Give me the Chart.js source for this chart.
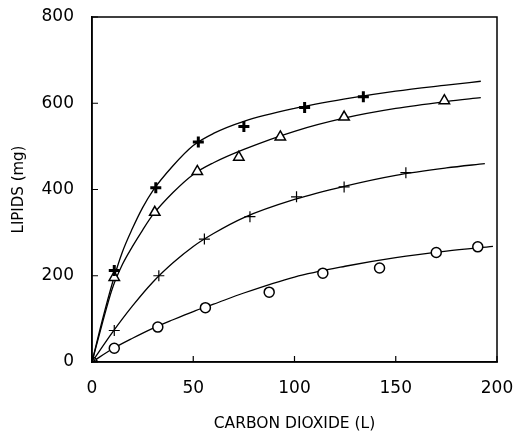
<!DOCTYPE html>
<html>
<head>
<meta charset="utf-8">
<title>Lipids vs Carbon Dioxide</title>
<script src="https://cdn.jsdelivr.net/npm/chart.js@4/dist/chart.umd.min.js"></script>
<style>
  html, body { margin: 0; padding: 0; background: #fff; }
  #lipidsChart { display: block; }
</style>
</head>
<body>
<canvas id="lipidsChart" width="515" height="434"></canvas>
<script>
// measured points, carbon dioxide (L) vs lipids (mg)
const boldPlusX = [0, 11, 31.5, 52.5, 75, 105, 134];
const boldPlusY = [0, 212, 404, 510, 546, 590, 615];

const triangleX = [0, 11, 31, 52, 72.5, 93, 124.5, 174];
const triangleY = [0, 196, 347, 442, 475, 522, 568, 606];

const thinPlusX = [0, 11, 33, 55.5, 78, 101, 124.5, 155];
const thinPlusY = [0, 73, 200, 285, 337, 383, 406, 439];

const circleX = [0, 11, 32.5, 56, 87.5, 114, 142, 170, 190.5];
const circleY = [0, 32, 81, 126, 162, 206, 218, 254, 267];

// fitted curves
const boldCurveX = [0, 5, 10, 15, 20, 25, 30, 40, 50, 60, 75, 100, 125, 150, 175, 192];
const boldCurveY = [0, 95, 182, 255, 310, 358, 397, 455, 502, 530, 558, 588, 610, 628, 642, 651];

const triCurveX = [0, 5, 10, 15, 20, 25, 30, 40, 50, 60, 75, 100, 125, 150, 175, 192];
const triCurveY = [0, 88, 170, 226, 268, 306, 341, 393, 435, 462, 493, 535, 566, 588, 604, 613];

const thinCurveX = [0, 10, 20, 30, 40, 50, 60, 75, 100, 125, 150, 175, 194];
const thinCurveY = [0, 68, 130, 185, 230, 268, 298, 335, 377, 408, 433, 450, 460];

const circleCurveX = [0, 10, 20, 30, 40, 50, 60, 75, 100, 125, 150, 175, 198];
const circleCurveY = [0, 30, 55, 78, 98, 117, 134, 160, 197, 222, 242, 257, 268];

const xTicks = [0, 50, 100, 150, 200];
const yTicks = [0, 200, 400, 600, 800];

const toPoints = (xs, ys) => xs.map((x, i) => ({ x, y: ys[i] }));

const FONT = 'DejaVu Sans';
const TICK_LEN = 6;

// frame round the plot plus short inward tick marks
const framePlugin = {
  id: 'frame',
  afterDraw(chart) {
    const { ctx, chartArea, scales } = chart;
    const { left, right, top, bottom } = chartArea;
    ctx.save();
    ctx.strokeStyle = '#000';
    ctx.lineWidth = 1.5;
    ctx.strokeRect(left, top, right - left, bottom - top);

    ctx.lineWidth = 1.2;
    ctx.beginPath();
    xTicks.forEach((v) => {
      const px = scales.x.getPixelForValue(v);
      ctx.moveTo(px, bottom);
      ctx.lineTo(px, bottom - TICK_LEN);
    });
    yTicks.forEach((v) => {
      const py = scales.y.getPixelForValue(v);
      ctx.moveTo(left, py);
      ctx.lineTo(left + TICK_LEN, py);
    });
    ctx.stroke();
    ctx.restore();
  },
};

const curve = (xs, ys) => ({
  data: toPoints(xs, ys),
  showLine: true,
  borderColor: '#000',
  borderWidth: 1.3,
  pointRadius: 0,
  cubicInterpolationMode: 'monotone',
  order: 2,
});

const markers = (xs, ys, style, radius, width, fill) => ({
  data: toPoints(xs, ys),
  showLine: false,
  pointStyle: style,
  pointRadius: radius,
  pointBorderWidth: width,
  pointBorderColor: '#000',
  pointBackgroundColor: fill,
  order: 1,
});

const ctx = document.getElementById('lipidsChart').getContext('2d');
new Chart(ctx, {
  type: 'scatter',
  data: {
    datasets: [
      curve(boldCurveX, boldCurveY),
      curve(triCurveX, triCurveY),
      curve(thinCurveX, thinCurveY),
      curve(circleCurveX, circleCurveY),
      markers(boldPlusX, boldPlusY, 'cross', 5.5, 3, '#000'),
      markers(triangleX, triangleY, 'triangle', 6, 1.5, '#fff'),
      markers(thinPlusX, thinPlusY, 'cross', 5.5, 1.2, '#000'),
      markers(circleX, circleY, 'circle', 5, 1.5, '#fff'),
    ],
  },
  options: {
    responsive: false,
    animation: false,
    layout: { padding: { left: 0, top: 17, right: 18, bottom: 0 } },
    plugins: {
      legend: { display: false },
      tooltip: { enabled: false },
    },
    scales: {
      x: {
        type: 'linear',
        min: xTicks[0],
        max: xTicks[xTicks.length - 1],
        afterBuildTicks: (axis) => { axis.ticks = xTicks.map((v) => ({ value: v })); },
        afterFit: (axis) => {
          axis.height = 72;
          axis.paddingLeft = 0;
          axis.paddingRight = 0;
        },
        border: { color: '#000', width: 1.5 },
        grid: { display: false },
        ticks: { color: '#000', font: { family: FONT, size: 17 }, padding: 8, maxRotation: 0 },
        title: {
          display: true,
          text: 'CARBON DIOXIDE (L)',
          color: '#000',
          font: { family: FONT, size: 15.5 },
          padding: { top: 0, bottom: 1 },
        },
      },
      y: {
        type: 'linear',
        min: yTicks[0],
        max: yTicks[yTicks.length - 1],
        afterBuildTicks: (axis) => { axis.ticks = yTicks.map((v) => ({ value: v })); },
        afterFit: (axis) => {
          axis.width = 92;
          axis.paddingTop = 0;
          axis.paddingBottom = 0;
        },
        border: { color: '#000', width: 1.5 },
        grid: { display: false },
        ticks: { color: '#000', font: { family: FONT, size: 17 }, padding: 10 },
        title: {
          display: true,
          text: 'LIPIDS (mg)',
          color: '#000',
          font: { family: FONT, size: 15 },
          padding: { top: 10, bottom: 0 },
        },
      },
    },
  },
  plugins: [framePlugin],
});
</script>
</body>
</html>
